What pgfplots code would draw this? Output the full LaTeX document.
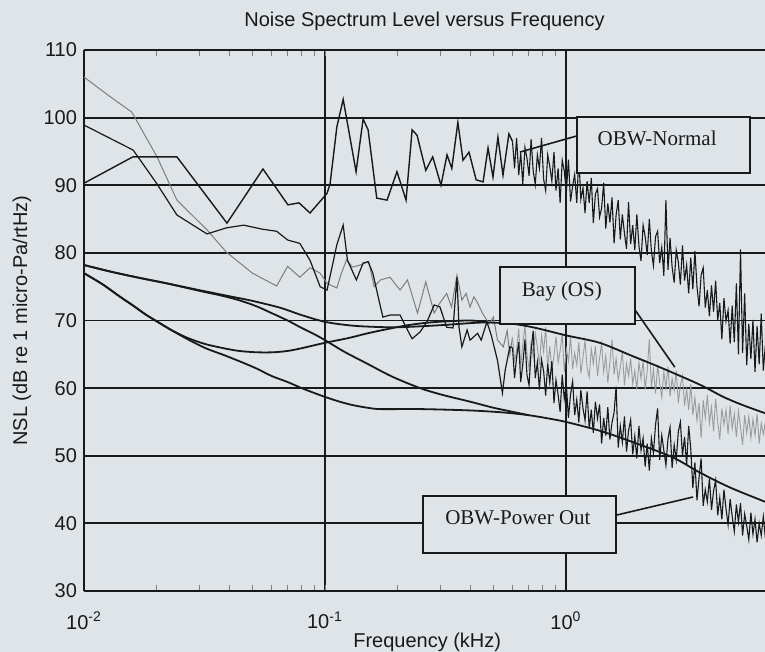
\documentclass[border=0pt]{standalone}
\usepackage{pgfplots}
\pgfplotsset{compat=1.18}
\usepackage{pgfplotstable}
\usepackage{fontspec}
\setmainfont{Liberation Sans}
\newfontfamily\tnr{Liberation Serif}
\definecolor{bg}{RGB}{222,228,231}
\definecolor{ink}{RGB}{25,25,25}
\definecolor{gline}{RGB}{125,125,125}
\definecolor{gnoise}{RGB}{155,155,155}

% x = frequency (kHz), n = OBW-Normal, p = OBW-Power Out, b = Bay (OS)
\pgfplotstableread{
x n p b
0.600 96.5 66.0 67.5
0.612 92.5 61.5 64.0
0.624 97.0 64.5 65.6
0.637 91.5 66.8 68.8
0.649 94.8 60.9 63.2
0.662 90.2 63.5 66.5
0.676 95.6 67.2 69.2
0.689 94.0 62.0 65.0
0.703 91.4 60.4 62.8
0.717 96.8 65.5 67.0
0.731 92.2 68.5 64.6
0.746 90.1 61.5 68.2
0.761 94.5 63.8 66.0
0.776 92.5 59.8 63.4
0.792 97.0 64.2 67.8
0.808 90.9 62.5 65.4
0.824 89.2 58.9 69.0
0.840 94.5 63.6 63.0
0.857 92.8 60.8 66.2
0.874 90.6 64.0 62.6
0.892 94.9 57.8 64.8
0.909 89.2 61.2 67.6
0.928 92.5 59.0 63.8
0.946 87.4 56.5 65.5
0.965 93.7 62.0 68.0
0.984 92.1 58.4 62.4
1.004 89.0 60.5 65.8
1.024 93.8 55.6 64.0
1.045 87.6 59.1 67.6
1.066 89.9 61.0 62.8
1.087 91.6 56.0 65.2
1.109 87.4 58.3 63.4
1.131 94.1 54.9 66.8
1.153 87.9 59.7 62.2
1.177 89.6 57.0 64.6
1.200 85.9 55.2 67.0
1.224 90.6 59.5 63.0
1.249 87.4 54.0 61.6
1.274 91.1 56.8 65.8
1.299 84.4 53.4 63.6
1.325 88.7 58.0 66.2
1.352 89.5 55.5 61.8
1.379 85.3 57.6 64.4
1.406 86.6 51.8 66.6
1.434 90.4 55.6 62.4
1.463 83.6 53.0 64.8
1.492 87.3 57.2 60.8
1.522 84.5 52.4 63.8
1.553 88.2 54.9 67.2
1.584 81.4 56.4 62.0
1.615 85.6 60.2 64.4
1.648 87.8 51.2 61.2
1.681 82.0 54.4 63.0
1.714 85.7 52.0 65.4
1.749 82.9 55.8 60.4
1.784 80.6 50.6 63.6
1.819 87.5 53.7 61.8
1.856 81.3 55.3 64.4
1.893 84.1 50.2 60.6
1.931 80.4 52.9 62.6
1.969 85.7 49.6 59.8
2.009 81.0 54.4 63.8
2.049 78.8 50.8 61.4
2.090 84.1 52.6 64.0
2.132 82.4 48.4 59.8
2.174 79.7 51.8 62.6
2.218 85.0 47.8 67.2
2.262 80.3 52.6 60.2
2.307 78.1 50.4 62.8
2.354 82.4 54.6 59.2
2.401 83.2 57.0 63.4
2.449 78.5 49.4 60.8
2.498 80.8 53.0 58.6
2.548 76.6 50.8 62.4
2.599 87.8 48.6 60.0
2.651 77.5 52.5 63.2
2.704 82.2 54.2 58.8
2.758 77.9 48.2 61.4
2.813 75.6 51.6 59.6
2.869 80.4 49.4 62.6
2.927 78.6 53.6 57.8
2.985 75.3 55.0 60.4
3.045 81.1 50.0 61.8
3.106 75.9 52.8 57.4
3.168 78.2 48.6 59.8
3.231 74.0 54.4 56.8
3.296 79.3 51.0 60.6
3.362 74.6 45.2 56.0
3.429 80.3 49.0 58.6
3.498 75.0 43.4 55.2
3.568 72.1 46.8 57.8
3.639 76.7 49.6 52.6
3.712 77.8 42.6 58.2
3.786 71.9 45.0 55.6
3.862 74.5 43.2 59.0
3.939 70.6 46.6 54.8
4.018 75.2 42.0 57.2
4.098 71.3 44.8 53.6
4.180 75.9 46.4 58.4
4.264 70.0 41.2 55.0
4.349 72.6 43.8 52.4
4.436 67.2 40.6 57.0
4.525 73.3 45.0 54.6
4.615 69.9 42.2 56.8
4.708 71.5 39.8 53.2
4.802 66.6 43.6 57.4
4.898 72.2 41.0 54.0
4.996 66.8 38.8 56.2
5.096 75.5 42.8 52.8
5.198 65.0 40.2 56.6
5.302 80.5 43.0 54.2
5.408 65.2 38.2 51.6
5.516 74.0 41.4 56.0
5.626 63.4 39.6 53.4
5.739 69.5 37.6 55.8
5.854 64.3 41.6 52.6
5.971 70.1 38.4 55.4
6.090 62.4 40.6 53.0
6.212 69.2 37.2 56.2
6.336 63.5 40.0 51.8
6.463 71.0 38.2 54.8
6.592 62.6 41.0 53.2
6.724 66.4 37.8 55.0
}\noisy

\begin{document}
\begin{tikzpicture}[x=1pt,y=1pt]
\fill[bg] (0,0) rectangle (382.5,326);
\useasboundingbox (0,0) rectangle (382.5,326);
\begin{axis}[
  at={(42pt,30.5pt)}, anchor=south west,
  scale only axis, width=340.5pt, height=270.5pt,
  xmode=log, xmin=0.01, xmax=6.70, ymin=30, ymax=110,
  axis x line*=box, axis y line*=left,
  axis line style={ink, line width=0.9pt},
  xtick={0.01,0.1,1},
  xticklabels={10\textsuperscript{-2},10\textsuperscript{-1},10\textsuperscript{0}},
  ytick={30,40,...,110},
  yticklabels={30,40,50,60,70,80,90,100,110},
  minor xtick={},
  major tick length=0pt,
  grid=major,
  major grid style={ink, line width=0.9pt},
  tick label style={font=\fontsize{10}{12}\selectfont, text=ink},
  xticklabel style={yshift=-7pt},
  title={Noise Spectrum Level versus Frequency},
  title style={font=\fontsize{10}{12}\selectfont, text=ink, at={(axis description cs:0.5,1.030)}, anchor=center},
  xlabel={Frequency (kHz)},
  xlabel style={font=\fontsize{10}{12}\selectfont, text=ink, at={(axis description cs:0.504,-0.0956)}, anchor=center},
  ylabel={NSL (dB re 1 micro-Pa/rtHz)},
  ylabel style={font=\fontsize{10}{12}\selectfont, text=ink, at={(axis description cs:-0.091,0.5)}, anchor=center},
]
% Bay (OS): gray
\addplot[gline, line width=0.5pt] coordinates {
(0.01,106.0)(0.0125,103.4)(0.0158,100.8)(0.0201,94.2)(0.0243,87.8)(0.0324,83.4)(0.039,80.1)(0.05,77.0)(0.063,75.1)(0.070,78.0)(0.0787,76.4)(0.0867,77.8)(0.0955,77.0)(0.102,75.5)(0.112,74.8)(0.117,77.0)(0.123,79.0)(0.13,77.9)(0.14,78.2)(0.152,78.7)(0.16,75.0)(0.17,76.0)(0.186,76.4)(0.205,74.5)(0.22,76.0)(0.242,71.1)(0.262,75.7)(0.284,71.1)(0.30,72.6)(0.32,74.0)(0.335,72.0)(0.353,76.7)(0.37,73.0)(0.385,74.0)(0.40,72.0)(0.415,73.5)(0.43,72.6)(0.45,71.1)(0.48,69.5)(0.50,70.5)(0.52,67.1)(0.55,66.1)(0.57,68.5)(0.585,65.0)(0.6,67.5)};
\addplot[gnoise, line width=0.45pt] table[x=x, y=b] {\noisy};
% smooth curves
\addplot[ink, line width=0.9pt, smooth] coordinates {
(0.01,78.2)(0.013,77.2)(0.017,76.3)(0.022,75.5)(0.03,74.5)(0.04,73.6)(0.05,72.9)(0.065,71.9)(0.08,70.8)(0.1,69.8)(0.125,69.3)(0.15,69.1)(0.2,69.0)(0.3,69.3)(0.45,69.7)(0.6,69.5)(0.75,68.9)(1.0,67.8)(1.38,66.7)(1.9,64.7)(2.45,63.1)(3.6,60.5)(4.5,58.7)(5.5,57.4)(6.7,56.3)};
\addplot[ink, line width=0.9pt, smooth] coordinates {
(0.01,77.0)(0.012,75.3)(0.014,73.6)(0.016,72.2)(0.018,70.9)(0.02,69.9)(0.023,68.6)(0.027,67.4)(0.032,66.5)(0.038,65.9)(0.044,65.5)(0.052,65.3)(0.061,65.3)(0.07,65.5)(0.08,65.9)(0.1,66.7)(0.125,67.4)(0.15,68.1)(0.18,68.7)(0.22,69.3)(0.27,69.7)(0.33,69.9)(0.4,70.0)(0.47,69.8)};
\addplot[ink, line width=0.9pt, smooth] coordinates {
(0.01,78.2)(0.013,77.2)(0.017,76.3)(0.022,75.5)(0.03,74.4)(0.037,73.7)(0.044,73.0)(0.052,72.1)(0.06,71.1)(0.07,70.0)(0.08,68.9)(0.09,68.0)(0.1,67.1)(0.12,65.4)(0.15,63.6)(0.19,61.7)(0.248,60.0)(0.3,59.1)(0.35,58.5)(0.4,58.0)(0.5,57.1)(0.6,56.5)(0.7,56.0)};
\addplot[ink, line width=0.9pt, smooth] coordinates {
(0.01,77.0)(0.012,75.3)(0.014,73.6)(0.016,72.2)(0.018,70.9)(0.02,69.9)(0.023,68.6)(0.027,67.2)(0.032,65.9)(0.038,64.9)(0.044,64.0)(0.052,62.9)(0.06,61.8)(0.07,60.9)(0.08,60.0)(0.09,59.3)(0.1,58.7)(0.115,58.0)(0.13,57.5)(0.15,57.1)(0.17,56.9)(0.25,56.9)(0.4,56.7)(0.55,56.4)(0.7,56.0)(0.85,55.5)(1.0,55.0)(1.38,53.7)(1.9,52.0)(2.76,49.8)(3.6,47.5)(4.8,45.3)(6.7,43.2)};
% OBW-Power Out: black
\addplot[ink, line width=0.6pt] coordinates {
(0.01,98.9)(0.016,95.2)(0.020,90.3)(0.0243,85.6)(0.0324,82.8)(0.039,83.7)(0.046,84.1)(0.055,83.5)(0.063,83.2)(0.070,81.9)(0.0787,81.4)(0.0867,78.9)(0.0955,75.0)(0.102,74.5)(0.107,77.9)(0.112,81.2)(0.119,84.1)(0.124,78.9)(0.135,76.0)(0.144,78.5)(0.151,78.7)(0.158,77.0)(0.17,72.0)(0.174,70.5)(0.186,70.8)(0.205,70.8)(0.22,68.6)(0.23,67.3)(0.248,68.3)(0.265,69.8)(0.284,72.3)(0.3,72.0)(0.32,69.0)(0.34,68.9)(0.353,76.4)(0.36,69.0)(0.37,66.1)(0.389,68.6)(0.40,67.1)(0.43,68.1)(0.445,67.1)(0.47,69.8)(0.49,67.8)(0.52,64.1)(0.545,59.3)(0.56,62.7)(0.585,66.1)(0.6,66.0)};
\addplot[ink, line width=0.55pt] table[x=x, y=p] {\noisy};
% OBW-Normal: black
\addplot[ink, line width=0.7pt] coordinates {
(0.01,90.3)(0.01596,94.2)(0.0243,94.2)(0.0392,84.4)(0.0553,92.4)(0.0702,87.1)(0.078,87.4)(0.0867,85.9)(0.102,88.8)(0.105,90.2)(0.112,98.6)(0.119,102.7)(0.1346,92.0)(0.144,99.8)(0.151,98.2)(0.164,88.1)(0.181,87.8)(0.199,92.0)(0.217,87.8)(0.23,98.2)(0.241,97.4)(0.262,92.2)(0.28,94.2)(0.303,90.0)(0.321,94.5)(0.336,92.5)(0.356,99.3)(0.374,93.7)(0.396,94.9)(0.424,90.8)(0.453,90.5)(0.475,95.5)(0.498,91.2)(0.522,97.1)(0.548,91.5)(0.58,97.6)(0.6,96.5)};
\addplot[ink, line width=0.55pt] table[x=x, y=n] {\noisy};
% annotations
\draw[ink, line width=0.8pt] (axis cs:1.111,97.3) -- (axis cs:0.644,94.9);
\draw[ink, line width=0.9pt, fill=bg] (axis cs:1.111,100.1) rectangle (axis cs:5.80,91.8);
\node[font=\tnr\fontsize{10.5}{12}\selectfont, text=ink] at (axis cs:2.39,97.0) {OBW-Normal};
\draw[ink, line width=0.8pt] (axis cs:1.932,71.6) -- (axis cs:2.83,63.1);
\draw[ink, line width=0.9pt, fill=bg] (axis cs:0.532,77.9) rectangle (axis cs:1.932,69.5);
\node[font=\tnr\fontsize{10.5}{12}\selectfont, text=ink] at (axis cs:0.962,74.3) {Bay (OS)};
\draw[ink, line width=0.8pt] (axis cs:1.61,41.2) -- (axis cs:3.37,43.9);
\draw[ink, line width=0.9pt, fill=bg] (axis cs:0.255,44.05) rectangle (axis cs:1.61,35.6);
\node[font=\tnr\fontsize{10.5}{12}\selectfont, text=ink] at (axis cs:0.632,40.8) {OBW-Power Out};
\end{axis}
\end{tikzpicture}
\end{document}
